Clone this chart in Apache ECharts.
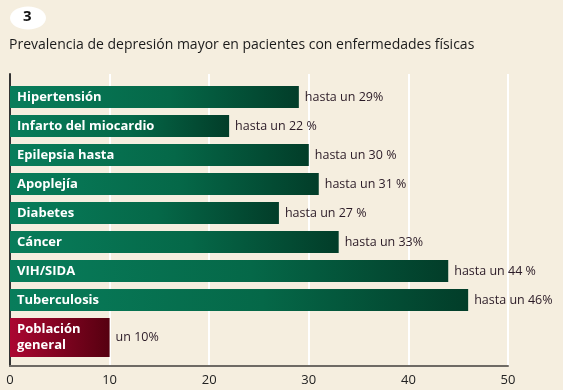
<!DOCTYPE html>
<html>
<head>
<meta charset="utf-8">
<script src="https://cdn.jsdelivr.net/npm/echarts@6/dist/echarts.min.js"></script>
<style>
html,body{margin:0;padding:0;background:#f5eedf;}
#c{width:563px;height:390px;}
</style>
</head>
<body>
<div id="c"></div>
<script>
const categories = ['Hipertensión','Infarto del miocardio','Epilepsia hasta','Apoplejía','Diabetes','Cáncer','VIH/SIDA','Tuberculosis'];
const values = [29, 22, 30, 31, 27, 33, 44, 46];
const valueLabels = ['hasta un 29%','hasta un 22 %','hasta un 30 %','hasta un 31 %','hasta un 27 %','hasta un 33%','hasta un 44 %','hasta un 46%'];
const refCategory = ['Población\ngeneral'];
const refValues = [10];
const refLabels = ['un 10%'];
const xTicks = [0, 10, 20, 30, 40, 50];
const titleText = 'Prevalencia de depresión mayor en pacientes con enfermedades físicas';
const figNumber = '3';

const FONT = 'Open Sans';
const chart = echarts.init(document.getElementById('c'), null, {renderer:'canvas'});

const greenGrad = new echarts.graphic.LinearGradient(0,0,1,0,[
  {offset:0,color:'#087d5b'},{offset:0.55,color:'#056848'},{offset:1,color:'#023d29'}]);
const redGrad = new echarts.graphic.LinearGradient(0,0,1,0,[
  {offset:0,color:'#ab0631'},{offset:1,color:'#560010'}]);

const L = 10, R = 55;
const xMin = xTicks[0], xMax = xTicks[xTicks.length-1], xInt = xTicks[1]-xTicks[0];

function valAxis(grid, show){
  return {type:'value', gridIndex:grid, min:xMin, max:xMax, interval:xInt,
    show: show,
    axisLine:{show:show, lineStyle:{color:'#6e6a64', width:2}},
    axisTick:{show:false},
    axisLabel:{show:show, color:'#222', fontFamily:FONT, fontSize:13, margin:8},
    splitLine:{show:show, lineStyle:{color:'#ffffff', width:2}}
  };
}

const option = {
  backgroundColor:'#f5eedf',
  animation:false,
  graphic:[
    {type:'ellipse', shape:{cx:28, cy:18, rx:18, ry:11.5}, style:{fill:'#ffffff'}},
    {type:'text', left:23, top:9, style:{text:figNumber, fill:'#111', font:'bold 15px "Open Sans"'}}
  ],
  title:{text:titleText, left:9, top:38, padding:0,
    textStyle:{fontFamily:FONT, fontSize:14, fontWeight:500, color:'#1a1a1a'}},
  grid:[
    {left:L, right:R, top:74, height:292},
    {left:L, right:R, top:82.5, height:232},
    {left:L, right:R, top:318, height:39}
  ],
  xAxis:[ valAxis(0,true), valAxis(1,false), valAxis(2,false) ],
  yAxis:[
    {type:'category', gridIndex:0, data:[''], axisLine:{show:true, lineStyle:{color:'#333', width:2}},
      axisTick:{show:false}, axisLabel:{show:false}, splitLine:{show:false}},
    {type:'category', gridIndex:1, data:categories, inverse:true, show:false},
    {type:'category', gridIndex:2, data:refCategory, show:false}
  ],
  series:[
    {type:'bar', xAxisIndex:1, yAxisIndex:1, data:values, barWidth:22,
      itemStyle:{color:greenGrad},
      label:{show:true, position:'insideLeft', distance:7, formatter:p=>categories[p.dataIndex],
        color:'#ffffff', fontFamily:FONT, fontWeight:'bold', fontSize:13}},
    {type:'bar', xAxisIndex:1, yAxisIndex:1, data:values, barWidth:22, barGap:'-100%',
      itemStyle:{color:'rgba(0,0,0,0)'},
      label:{show:true, position:'right', distance:6, formatter:p=>valueLabels[p.dataIndex],
        color:'#2a1a26', fontFamily:FONT, fontSize:12.5}},
    {type:'bar', xAxisIndex:2, yAxisIndex:2, data:refValues, barWidth:39,
      itemStyle:{color:redGrad},
      label:{show:true, position:'insideLeft', distance:7, formatter:p=>refCategory[p.dataIndex],
        color:'#ffffff', fontFamily:FONT, fontWeight:'bold', fontSize:13, lineHeight:16}},
    {type:'bar', xAxisIndex:2, yAxisIndex:2, data:refValues, barWidth:39, barGap:'-100%',
      itemStyle:{color:'rgba(0,0,0,0)'},
      label:{show:true, position:'right', distance:6, formatter:p=>refLabels[p.dataIndex],
        color:'#2a1a26', fontFamily:FONT, fontSize:12.5}}
  ]
};
chart.setOption(option);
</script>
</body>
</html>
